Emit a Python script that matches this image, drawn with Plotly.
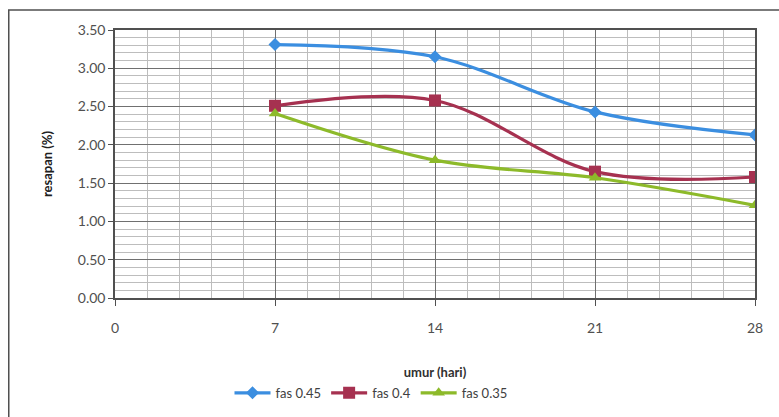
import plotly.graph_objects as go

umur = [7, 14, 21, 28]
fas_045 = [3.31, 3.15, 2.43, 2.13]
fas_040 = [2.51, 2.58, 1.65, 1.58]
fas_035 = [2.41, 1.80, 1.57, 1.21]
series_names = ["fas 0.45", "fas 0.4", "fas 0.35"]
x_ticks = [0, 7, 14, 21, 28]
y_ticks = [0, 0.5, 1.0, 1.5, 2.0, 2.5, 3.0, 3.5]

colors = ["#3b8ee0", "#a63150", "#8dba2a"]
symbols = ["diamond", "square", "triangle-up"]
msizes = [10, 12, 11]

fig = go.Figure()
for name, vals, c, s, ms in zip(series_names, [fas_045, fas_040, fas_035], colors, symbols, msizes):
    fig.add_trace(go.Scatter(
        x=umur, y=vals, name=name, mode="lines+markers",
        line=dict(color=c, width=3.2, shape="spline", smoothing=1.0),
        marker=dict(symbol=s, size=ms, color=c),
    ))

font = "Lato, Open Sans, sans-serif"
fig.update_layout(
    width=779, height=417,
    margin=dict(l=115, r=24, t=30, b=119, autoexpand=False),
    paper_bgcolor="white", plot_bgcolor="white",
    font=dict(family=font, size=13, color="#404040"),
    showlegend=True,
    legend=dict(orientation="h", x=0.40, xanchor="center", y=-0.298, yanchor="top",
                font=dict(size=13, color="#404040"), itemwidth=36, tracegroupgap=0,
                bgcolor="rgba(0,0,0,0)"),
    xaxis=dict(
        range=[0, 28], tickvals=x_ticks, ticktext=[str(v) for v in x_ticks],
        automargin=False,
        showgrid=True, gridcolor="#707070", gridwidth=1,
        minor=dict(dtick=1.4, showgrid=True, gridcolor="#bdbdbd", gridwidth=1),
        showline=True, linecolor="#505050", linewidth=1.5, mirror=True,
        ticks="outside", ticklen=6, tickcolor="#505050",
        ticklabelstandoff=10,
        tickfont=dict(size=14, color="#505050"),
        title=dict(text="<b>umur (hari)</b>", font=dict(size=13, color="#303030"), standoff=33),
        zeroline=False,
    ),
    yaxis=dict(
        range=[0, 3.5], tickvals=y_ticks, ticktext=[f"{v:.2f}" for v in y_ticks],
        automargin=False,
        showgrid=True, gridcolor="#707070", gridwidth=1,
        minor=dict(dtick=0.1, showgrid=True, gridcolor="#bdbdbd", gridwidth=1),
        showline=True, linecolor="#505050", linewidth=1.5, mirror=True,
        ticks="outside", ticklen=5, tickcolor="#505050",
        tickfont=dict(size=14, color="#505050"),
        title=dict(text="<b>resapan (%)</b>", font=dict(size=13, color="#202020"), standoff=22),
        zeroline=False,
    ),
    shapes=[dict(type="rect", xref="paper", yref="paper", x0=-0.166, x1=1.2, y0=-0.6, y1=1.075,
                 line=dict(color="#505050", width=1.5))],
)

fig.write_html("out.html")
